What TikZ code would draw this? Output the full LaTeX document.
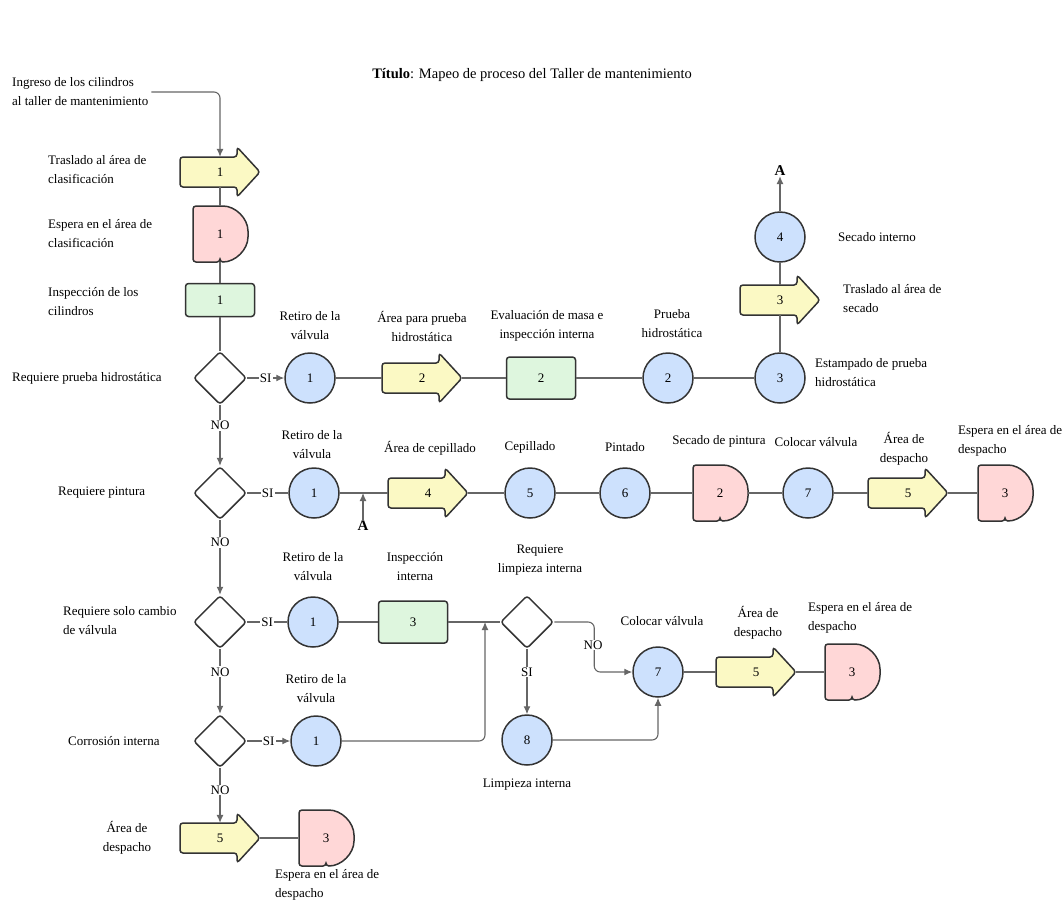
\documentclass[tikz,border=0pt]{standalone}
\usepackage{fontspec}
\setmainfont{Liberation Serif}
\usetikzlibrary{shapes.geometric,arrows.meta}
\definecolor{yel}{HTML}{FBF9C4}
\definecolor{pnk}{HTML}{FFD7D7}
\definecolor{grn}{HTML}{DEF6DE}
\definecolor{blu}{HTML}{CDE1FD}
\definecolor{edgec}{HTML}{333333}
\definecolor{connc}{HTML}{666666}
\tikzset{
 every node/.style={font=\fontsize{13}{19}\selectfont},
 lbl/.style={align=center, inner sep=0},
 lbll/.style={align=left, inner sep=0, anchor=west},
 bg/.style={fill=white, inner sep=1pt},
 circ/.style={circle, draw=edgec, line width=1.5pt, fill=blu, minimum size=50pt, inner sep=0},
 dia/.style={diamond, draw=edgec, line width=1.5pt, fill=white, minimum width=53pt, minimum height=53pt, inner sep=0, rounded corners=3pt},
 grect/.style={rectangle, draw=edgec, line width=1.5pt, fill=grn, rounded corners=3pt, minimum width=69pt, minimum height=42pt, inner sep=0},
 anch/.style={inner sep=0, draw=none},
 shp/.style={draw=edgec, line width=1.5pt, rounded corners=3pt},
 conn/.style={draw=connc, line width=1.1pt},
 arr/.style={conn, -{Latex[length=8pt,width=7pt]}},
}
% yellow transport arrow: name, x, y, text
\newcommand\yarr[4]{%
 \filldraw[shp, fill=yel] (#2-40,#3-15) -- (#2+17,#3-15) -- (#2+17,#3-25) -- (#2+40,#3) -- (#2+17,#3+25) -- (#2+17,#3+15) -- (#2-40,#3+15) -- cycle;
 \node[anch, minimum width=80pt, minimum height=30pt] (#1) at (#2,#3) {#4};
}
% delay D shape: name, x, y, text
\newcommand\dly[4]{%
 \filldraw[shp, fill=pnk] (#2,#3+28) -- (#2-27,#3+28) -- (#2-27,#3-28) -- (#2,#3-28)
   .. controls (#2+15.5,#3-28) and (#2+28,#3-15.5) .. (#2+28,#3)
   .. controls (#2+28,#3+15.5) and (#2+15.5,#3+28) .. (#2,#3+28) -- cycle;
 \node[anch, minimum width=55pt, minimum height=56pt] (#1) at (#2,#3) {#4};
}
\begin{document}
\begin{tikzpicture}[x=1pt,y=-1pt]
\useasboundingbox (0,0) rectangle (1064,903);

% title
\node[lbl, font=\fontsize{14.5}{18}\selectfont] (title) at (532,75) {\textbf{Título}: Mapeo de proceso del Taller de mantenimiento};

% ---------------- main column
\node[lbll] (in) at (12,92) {Ingreso de los cilindros\\al taller de mantenimiento};
\yarr{a1}{220}{172}{1}
\dly{d1}{220}{234}{1}
\node[grect, minimum height=33pt] (r1) at (220,300) {1};
\node[dia] (D1) at (220,378) {};
\node[dia] (D2) at (220,493) {};
\node[dia] (D3) at (220,622) {};
\node[dia] (D4) at (220,741) {};
\yarr{a5b}{220}{838}{5}
\dly{d3b}{326}{838}{3}

\node[lbll] (t1) at (48,170) {Traslado al área de\\clasificación};
\node[lbll] (t2) at (48,234) {Espera en el área de\\clasificación};
\node[lbll] (t3) at (48,302) {Inspección de los\\cilindros};
\node[lbll] (t4) at (12,378) {Requiere prueba hidrostática};
\node[lbll] (t5) at (58,493) {Requiere pintura};
\node[lbll] (t6) at (63,621) {Requiere solo cambio\\de válvula};
\node[lbll] (t7) at (68,741) {Corrosión interna};
\node[lbl] (t8) at (127,838) {Área de\\despacho};
\node[lbll] (t9) at (275,885) {Espera en el área de\\despacho};

\draw[arr, rounded corners=6pt] ([xshift=3pt]in.east) -| (a1.north);
\draw[conn] (a1.south) -- (d1.north);
\draw[conn] (d1.south) -- (r1.north);
\draw[conn] (r1.south) -- (D1.north);
\draw[arr] (D1.south) -- node[pos=0.33, bg] {NO} (D2.north);
\draw[arr] (D2.south) -- node[pos=0.3, bg] {NO} (D3.north);
\draw[arr] (D3.south) -- node[pos=0.35, bg] {NO} (D4.north);
\draw[arr] (D4.south) -- node[pos=0.4, bg] {NO} (a5b.north);
\draw[conn] (a5b.east) -- (d3b.west);

% ---------------- row 1
\node[circ] (c11) at (310,378) {1};
\yarr{a2}{422}{378}{2}
\node[grect, minimum height=42pt] (r2) at (541,378) {2};
\node[circ] (c2) at (668,378) {2};
\node[circ] (c3) at (780,378) {3};
\yarr{a3}{780}{300}{3}
\node[circ] (c4) at (780,237) {4};
\node[lbl, font=\fontsize{15}{18}\selectfont\bfseries] (Atop) at (780,171) {A};

\node[lbl] at (310,326) {Retiro de la\\válvula};
\node[lbl] at (422,326) {Área para prueba\\hidrostática};
\node[lbl] at (547,326) {Evaluación de masa e\\inspección interna};
\node[lbl] at (672,324) {Prueba\\hidrostática};
\node[lbll] at (815,373) {Estampado de prueba\\hidrostática};
\node[lbll] at (843,299) {Traslado al área de\\secado};
\node[lbll] at (838,237) {Secado interno};

\draw[arr] (D1.east) -- node[bg] {SI} (c11.west);
\draw[conn] (c11.east) -- (a2.west);
\draw[conn] (a2.east) -- (r2.west);
\draw[conn] (r2.east) -- (c2.west);
\draw[conn] (c2.east) -- (c3.west);
\draw[conn] (c3.north) -- (a3.south);
\draw[conn] (a3.north) -- (c4.south);
\draw[arr] (c4.north) -- (Atop.south);

% ---------------- row 2
\node[circ] (c12) at (314,493) {1};
\node[lbl, font=\fontsize{15}{18}\selectfont\bfseries] (Abot) at (363,526) {A};
\coordinate (jA) at (363,493);
\yarr{a4}{428}{493}{4}
\node[circ] (c5) at (530,493) {5};
\node[circ] (c6) at (625,493) {6};
\dly{d2}{720}{493}{2}
\node[circ] (c7) at (808,493) {7};
\yarr{a5}{908}{493}{5}
\dly{d3}{1005}{493}{3}

\node[lbl] at (312,445) {Retiro de la\\válvula};
\node[lbl] at (430,448) {Área de cepillado};
\node[lbl] at (530,447) {Cepillado};
\node[lbl] at (625,447) {Pintado};
\node[lbl] at (719,441) {Secado de pintura};
\node[lbl] at (816,442) {Colocar válvula};
\node[lbl] at (904,449) {Área de\\despacho};
\node[lbll] at (958,441) {Espera en el área de\\despacho};

\draw[conn] (D2.east) -- node[bg] {SI} (c12.west);
\draw[conn] (c12.east) -- (a4.west);
\draw[arr] (Abot.north) -- (jA);
\draw[conn] (a4.east) -- (c5.west);
\draw[conn] (c5.east) -- (c6.west);
\draw[conn] (c6.east) -- (d2.west);
\draw[conn] (d2.east) -- (c7.west);
\draw[conn] (c7.east) -- (a5.west);
\draw[conn] (a5.east) -- (d3.west);

% ---------------- row 3
\node[circ] (c13) at (313,622) {1};
\node[grect, minimum height=42pt] (r3) at (413,622) {3};
\node[dia] (D5) at (527,622) {};
\coordinate (J) at (485,622);
\node[circ] (c8) at (527,740) {8};
\node[circ] (c7b) at (658,672) {7};
\yarr{a5c}{756}{672}{5}
\dly{d3c}{852}{672}{3}

\node[lbl] at (313,567) {Retiro de la\\válvula};
\node[lbl] at (415,567) {Inspección\\interna};
\node[lbl] at (540,560) {Requiere\\limpieza interna};
\node[lbl] at (662,621) {Colocar válvula};
\node[lbl] at (758,623) {Área de\\despacho};
\node[lbll] at (808,618) {Espera en el área de\\despacho};
\node[lbl] at (527,785) {Limpieza interna};

\draw[conn] (D3.east) -- node[bg] {SI} (c13.west);
\draw[conn] (c13.east) -- (r3.west);
\draw[conn] (r3.east) -- (D5.west);
\draw[arr, rounded corners=6pt] (D5.east) -- ++(40,0) |- (c7b.west);
\node[bg] at (593,645) {NO};
\draw[arr] (D5.south) -- node[pos=0.35, bg] {SI} (c8.north);
\draw[arr, rounded corners=6pt] (c8.east) -| (c7b.south);
\draw[conn] (c7b.east) -- (a5c.west);
\draw[conn] (a5c.east) -- (d3c.west);

% ---------------- row 4
\node[circ] (c14) at (316,741) {1};
\node[lbl] at (316,689) {Retiro de la\\válvula};
\draw[arr] (D4.east) -- node[bg] {SI} (c14.west);
\draw[arr, rounded corners=6pt] (c14.east) -| (J);
\end{tikzpicture}
\end{document}
